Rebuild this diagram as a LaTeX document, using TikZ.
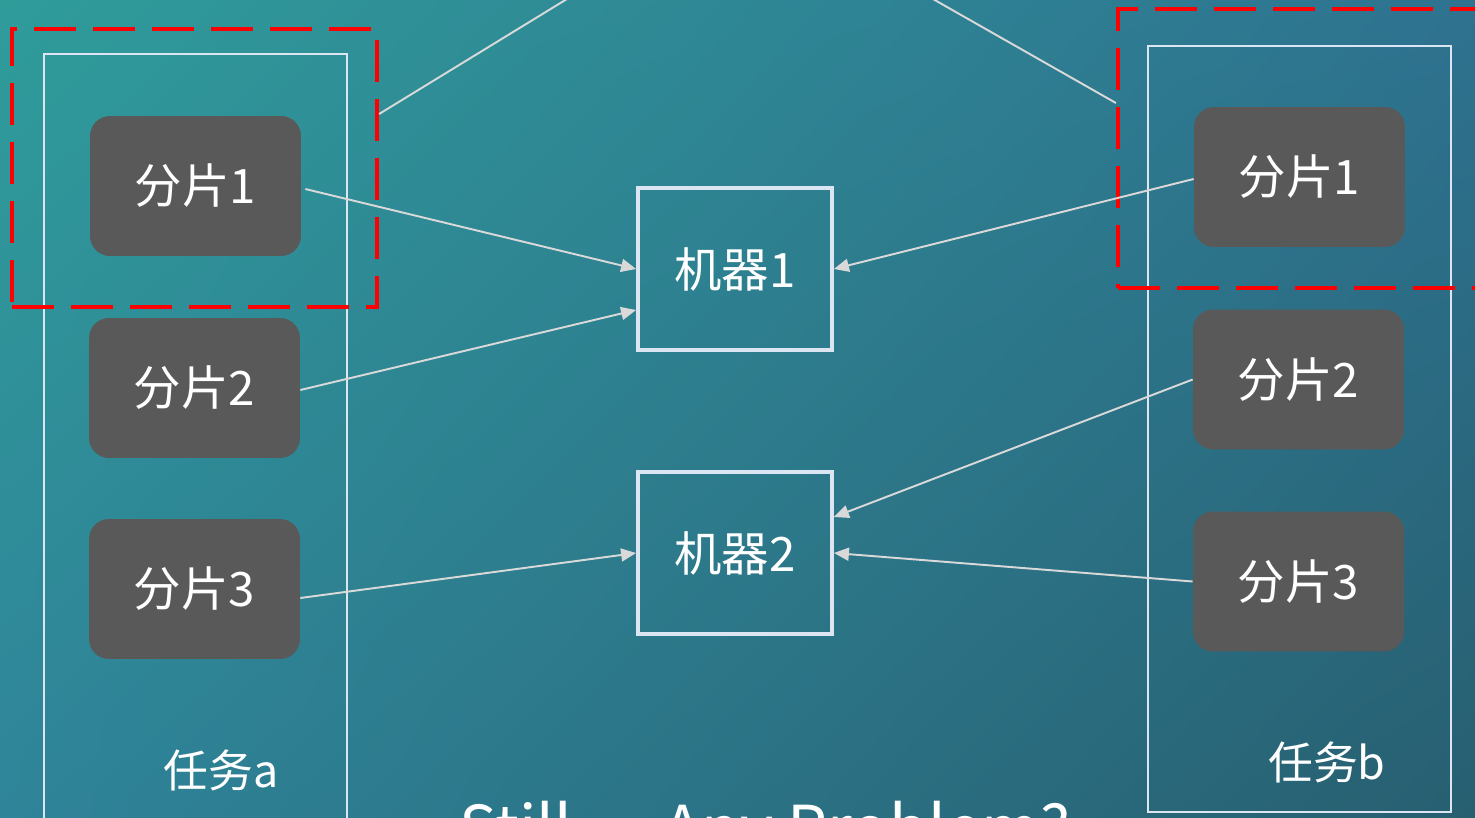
\documentclass[tikz,border=0pt]{standalone}
\usepackage{fontspec}
\newfontfamily\cjk{Noto Sans CJK SC}
\usetikzlibrary{arrows.meta,positioning,shadings}
\definecolor{shardgray}{HTML}{595959}
\definecolor{framewhite}{HTML}{DCE6F2}
\definecolor{arrowgray}{HTML}{D9D9D9}
\definecolor{dashred}{HTML}{FF0000}
\definecolor{bgtl}{HTML}{2F9C9A}
\definecolor{bgtr}{HTML}{2E7290}
\definecolor{bgbl}{HTML}{2F8499}
\definecolor{bgbr}{HTML}{275F70}
\tikzset{
    shard/.style={rectangle, rounded corners=0.4cm, fill=shardgray, text=white,
      minimum width=4.22cm, minimum height=2.8cm, font=\cjk\fontsize{27}{30}\selectfont},
    machine/.style={rectangle, draw=framewhite, line width=2.2pt, text=white,
      minimum width=3.88cm, minimum height=3.24cm, font=\cjk\fontsize{27}{30}\selectfont},
    task/.style={rectangle, draw=framewhite, line width=1.1pt, minimum width=6.06cm},
    redbox/.style={rectangle, draw=dashred, line width=2.4pt, dash pattern=on 0.84cm off 0.34cm},
    feed/.style={draw=arrowgray, line width=1.1pt, -{Triangle[length=0.3cm, width=0.26cm]}},
    link/.style={draw=arrowgray, line width=1.1pt},
    tasklabel/.style={text=white, inner sep=0pt, font=\cjk\fontsize{25.5}{30}\selectfont}
}
\begin{document}
\begin{tikzpicture}[x=0.02cm, y=-0.02cm]
  \useasboundingbox (0,0) rectangle (1475,818);
  \clip (0,0) rectangle (1475,818);
  \shade[upper left=bgtl, upper right=bgtr, lower left=bgbl, lower right=bgbr]
    (0,0) rectangle (1475,818);

  % task a
  \node[task, minimum height=15.72cm] (ta) at (195.5,447) {};
  \node[tasklabel] (la) at (221,770) {任务a};
  \node[shard] (a1) at (195.5,186) {分片1};
  \node[shard] (a2) at (194.5,388) {分片2};
  \node[shard] (a3) at (194.5,589) {分片3};

  % task b
  \node[task, minimum height=15.32cm] (tb) at (1299.5,429) {};
  \node[tasklabel] (lb) at (1327,762) {任务b};
  \node[shard] (b1) at (1299.5,177) {分片1};
  \node[shard] (b2) at (1298.5,379.5) {分片2};
  \node[shard] (b3) at (1298.5,581.5) {分片3};

  % machines
  \node[machine] (m1) at (735,269) {机器1};
  \node[machine] (m2) at (735,553) {机器2};

  % marked shards
  \node[redbox, minimum width=7.3cm, minimum height=5.56cm] (ra) at (194.5,168) {};
  \node[redbox, minimum width=7.44cm, minimum height=5.58cm] (rb) at (1304,148.5) {};

  \coordinate (ua) at (598,-20);
  \coordinate (ub) at (899.5,-20);
  \path ([yshift=1.08cm]ra.east) edge[link] (ua);
  \path ([yshift=0.91cm]rb.west) edge[link] (ub);

  \path ([xshift=0.08cm,yshift=-0.06cm]a1.east) edge[feed] (m1.west);
  \path ([yshift=-0.04cm]a2.east) edge[feed] ([yshift=-0.82cm]m1.west);
  \path ([yshift=-0.18cm]a3.east) edge[feed] (m2.west);
  \path ([yshift=-0.04cm]b1.west) edge[feed] (m1.east);
  \path (b2.west) edge[feed] ([yshift=0.72cm]m2.east);
  \path (b3.west) edge[feed] (m2.east);

  \node[anchor=base west, inner sep=0pt, text=white, font=\cjk\fontsize{36}{40}\selectfont]
    (ask) at (459,851) {Still\hspace{1.82cm}Any Problem?};
\end{tikzpicture}
\end{document}
